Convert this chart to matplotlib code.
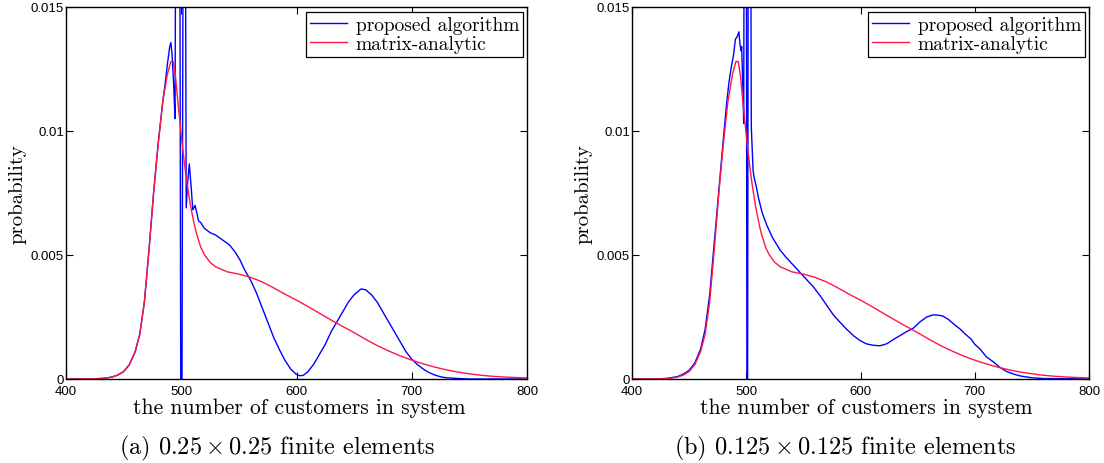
import matplotlib
matplotlib.use("Agg")
import matplotlib.pyplot as plt

plt.rcParams['mathtext.fontset'] = 'cm'
plt.rcParams['axes.unicode_minus'] = False

# matrix-analytic solution (same in both panels)
ma_x = [400, 410, 420, 430, 435, 440, 445, 450, 455, 460, 464, 468, 472, 476,
        480, 484, 488, 491, 493, 495, 497, 499, 501, 503, 505, 508, 511, 513,
        515, 517, 520, 525, 530, 540, 550, 560, 570, 580, 590, 600, 610, 620,
        630, 640, 650, 660, 670, 680, 690, 700, 710, 720, 730, 740, 750, 760,
        770, 780, 790, 800]
ma_y = [0, 0, 0.000005, 0.00002, 0.00004, 0.00008, 0.00016, 0.0003, 0.00058,
        0.0011, 0.0018, 0.0031, 0.0052, 0.0075, 0.0095, 0.0112, 0.0123, 0.0128,
        0.0128, 0.0122, 0.0112, 0.0103, 0.0094, 0.0086, 0.0079, 0.0070, 0.0063,
        0.0059, 0.0056, 0.0053, 0.00502, 0.0047, 0.00452, 0.00432, 0.00423,
        0.0041, 0.00392, 0.00368, 0.00342, 0.00318, 0.00292, 0.00265, 0.00238,
        0.00212, 0.00187, 0.0016, 0.00135, 0.00113, 0.00093, 0.00076, 0.00061,
        0.00048, 0.00037, 0.00028, 0.00021, 0.00015, 0.00011, 0.00008, 0.00006,
        0.00004]

# proposed algorithm, 0.25 x 0.25 elements
a_x = [400, 410, 420, 430, 435, 440, 445, 450, 455, 460, 464, 468, 472, 476,
       480, 484, 486, 488, 490, 491, 492, 493.5, 494.6, 495.6, 497, 498.6,
       499.6, 500.6, 501.8, 503, 504.3, 505.5, 507, 508.5, 510, 511, 512,
       513.5, 515, 517, 520, 525, 530, 536, 542, 547, 551, 555, 560, 565,
       570, 575, 580, 585, 590, 595, 600, 603, 606, 610, 615, 620, 625, 630,
       635, 640, 645, 650, 656, 660, 665, 670, 675, 680, 685, 690, 695, 700,
       705, 710, 715, 720, 725, 730, 740, 750, 800]
a_y = [0, 0, 0.000005, 0.00002, 0.00004, 0.00008, 0.00016, 0.0003, 0.00058,
       0.0011, 0.0018, 0.0031, 0.0052, 0.0075, 0.0095, 0.0112, 0.0119, 0.0127,
       0.0134, 0.01357, 0.0131, 0.0118, 0.0105, 0.025, 0.03, 0.022, -0.001,
       -0.001, 0.022, 0.03, 0.0069, 0.0079, 0.00867, 0.0078, 0.00683, 0.0069,
       0.0070, 0.0067, 0.00638, 0.0063, 0.00608, 0.0059, 0.0058, 0.0056,
       0.0054, 0.0051, 0.0048, 0.0044, 0.0040, 0.0035, 0.0029, 0.0023, 0.0017,
       0.0012, 0.00075, 0.0004, 0.00018, 0.00013, 0.00015, 0.0003, 0.0006,
       0.001, 0.0014, 0.0019, 0.0023, 0.0027, 0.0031, 0.0034, 0.00363, 0.0036,
       0.0034, 0.0031, 0.0027, 0.0023, 0.0019, 0.0015, 0.0011, 0.0008,
       0.00058, 0.0004, 0.00026, 0.00016, 0.00009, 0.00005, 0.00002, 0, 0]

# proposed algorithm, 0.125 x 0.125 elements
b_x = [400, 420, 430, 440, 445, 450, 455, 460, 464, 468, 472, 476, 480, 483,
       485, 487, 489, 490.5, 492, 493.6, 494.5, 495.4, 496, 497, 497.8, 498.5,
       499.8, 500.6, 501.2, 502, 503.3, 504.4, 505, 506, 507, 508.6, 510.7,
       514, 518, 523, 529.6, 535, 541, 547, 553, 559, 564.6, 570, 576, 582,
       588, 594, 599.6, 605, 611, 617, 623, 629, 634.6, 640, 646, 652, 658,
       663, 667, 672, 677, 682, 687, 692, 697, 700, 704.6, 710, 716, 722, 728,
       734, 740, 750, 760, 800]
b_y = [0, 0.000005, 0.00002, 0.0001, 0.0002, 0.00035, 0.00065, 0.0012, 0.002,
       0.0034, 0.0055, 0.0076, 0.0097, 0.0112, 0.0120, 0.0126, 0.0131, 0.0137,
       0.0138, 0.0140, 0.0135, 0.01324, 0.0134, 0.0118, 0.0103, 0.03, 0.03,
       -0.001, -0.001, 0.03, 0.03, 0.0102, 0.0095, 0.0084, 0.0081, 0.0078,
       0.0073, 0.0067, 0.0062, 0.0057, 0.0052, 0.0049, 0.0046, 0.0043, 0.0040,
       0.0037, 0.00336, 0.0030, 0.0026, 0.00229, 0.0020, 0.00174, 0.00155,
       0.00142, 0.00136, 0.00134, 0.00142, 0.0016, 0.00175, 0.0019, 0.00204,
       0.0023, 0.0025, 0.00258, 0.00258, 0.00254, 0.0024, 0.0022, 0.00202,
       0.0018, 0.0016, 0.0014, 0.00121, 0.0009, 0.0007, 0.00047, 0.0003,
       0.0002, 0.00012, 0.00005, 0.00002, 0]

x_ticks = [400, 500, 600, 700, 800]
y_ticks = [0, 0.005, 0.01, 0.015]
y_tick_labels = ['0', '0.005', '0.01', '0.015']
captions = [r'(a) $0.25\times0.25$ finite elements',
            r'(b) $0.125\times0.125$ finite elements']

BLUE = '#0000ff'
RED = '#ff1744'
SERIF = 'cmr10'

fig = plt.figure(figsize=(11.04, 4.64), dpi=100)
ax1 = fig.add_axes([66 / 1104, 84 / 464, 461 / 1104, 372 / 464])
ax2 = fig.add_axes([632 / 1104, 84 / 464, 457 / 1104, 372 / 464])

# caption centres and x-label nudges (pixels)
cap_x = [277, 845]
xlab_shift = [3, 6]

panels = [(ax1, a_x, a_y), (ax2, b_x, b_y)]
for i, (ax, bx, by) in enumerate(panels):
    ax.plot(bx, by, color=BLUE, lw=1.0, label='proposed algorithm')
    ax.plot(ma_x, ma_y, color=RED, lw=1.0, label='matrix-analytic')
    ax.set_xlim(400, 800)
    ax.set_ylim(0, 0.015)
    ax.set_xticks(x_ticks)
    ax.set_xticklabels([str(t) for t in x_ticks], family='Liberation Sans', fontsize=9.5)
    ax.set_yticks(y_ticks)
    ax.set_yticklabels(y_tick_labels, family='Liberation Sans', fontsize=9.5)
    ax.tick_params(axis='x', pad=4)
    ax.tick_params(axis='y', pad=1.5)
    ax.tick_params(direction='in', length=5, width=0.8, top=True, right=True)
    for s in ax.spines.values():
        s.set_linewidth(1.0)
    ax.set_xlabel('the number of customers in system', family=SERIF, fontsize=15.5, labelpad=1)
    ax.set_ylabel('probability', family=SERIF, fontsize=15, labelpad=3)
    w = ax.get_position().width * 1104
    lx, ly = ax.xaxis.get_label().get_position()
    ax.xaxis.get_label().set_x(0.5 + xlab_shift[i] / w)
    leg = ax.legend(loc='upper right', bbox_to_anchor=(1 - 4 / w, 1 - 5 / 372),
                    prop={'family': SERIF, 'size': 14},
                    fancybox=False, framealpha=1, edgecolor='black',
                    borderaxespad=0, borderpad=0.2, labelspacing=0.05,
                    handlelength=1.9, handletextpad=0.45)
    leg.get_frame().set_linewidth(0.9)
    fig.text(cap_x[i] / 1104, 16 / 464, captions[i], family=SERIF, fontsize=17.5,
             ha='center', va='center')

fig.savefig('out.png', dpi=100)
